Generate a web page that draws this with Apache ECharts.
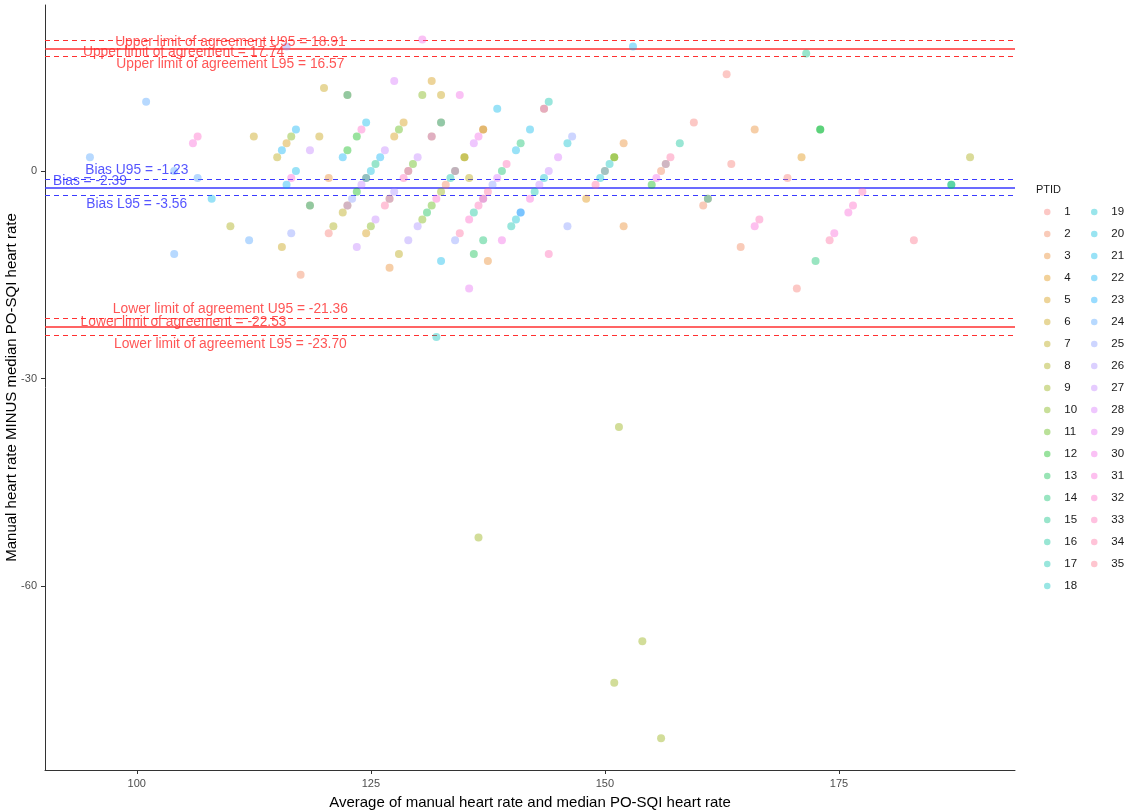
<!DOCTYPE html>
<html>
<head>
<meta charset="utf-8">
<script src="https://cdn.jsdelivr.net/npm/echarts@6/dist/echarts.min.js"></script>
<style>
  html, body { margin: 0; padding: 0; background: #fff; }
  #chart { width: 1125px; height: 810px; }
</style>
</head>
<body>
<div id="chart"></div>
<script>
// PTID levels
const ptids = Array.from({ length: 35 }, (_, i) => String(i + 1));

// [average HR, manual minus PO-SQI, PTID]
const points = [
  [101, 10, 24], [95, 2, 24], [104, 0, 24], [106.5, -1, 24], [106, 4, 31], [106.5, 5, 32],
  [112.5, 5, 6], [115, 2, 7], [115.5, 3, 22], [116, 4, 5], [116.5, 5, 10], [117, 6, 22],
  [119.5, 5, 6], [118.5, 3, 27], [122, 2, 22], [122.5, 3, 12], [123.5, 5, 12], [124, 6, 32],
  [124.5, 7, 21], [120, 12, 6], [122.5, 11, 16], [122.5, 11, 3], [116, 18, 25],
  [108, -4, 21], [116, -2, 22], [116.5, -1, 31], [117, 0, 21], [120.5, -1, 3],
  [124.5, -1, 23], [124.5, -1, 4], [124, -2, 27], [123.5, -3, 12], [123, -4, 25], [125, 0, 20],
  [118.5, -5, 16], [118.5, -5, 3], [110, -8, 8], [112, -10, 24], [104, -12, 24], [116.5, -9, 25],
  [115.5, -11, 6], [117.5, -15, 2], [120.5, -9, 1], [121, -8, 8], [122, -6, 7],
  [122.5, -5, 4], [122.5, -5, 26], [123.5, -11, 27], [124.5, -9, 5], [125, -8, 10],
  [125.5, 1, 15], [126, 2, 22], [126.5, 3, 27], [127.5, 5, 5], [128, 6, 11], [128.5, 7, 5],
  [127.5, 13, 28], [131.5, 13, 5], [130.5, 11, 10], [132.5, 11, 6], [134.5, 11, 30], [130.5, 19, 30],
  [131.5, 5, 28], [131.5, 5, 6], [132.5, 7, 17], [132.5, 7, 3],
  [125.5, -7, 27], [127.5, -3, 26], [127, -4, 27], [127, -4, 5], [126.5, -5, 34], [128.5, -1, 33],
  [129, 0, 29], [129, 0, 7], [129.5, 1, 11], [130, 2, 27], [130, -8, 26], [130.5, -7, 10],
  [131, -6, 13], [131.5, -5, 11], [132, -4, 32], [132.5, -3, 9], [133, -2, 2], [133.5, -1, 17],
  [134, 0, 33], [134, 0, 14], [135, 2, 7], [135, 2, 8], [135.5, -1, 7], [136, 4, 28], [136.5, 5, 30],
  [137, 6, 2], [137, 6, 6], [129, -10, 26], [134, -10, 25], [134.5, -9, 34], [135.5, -7, 32],
  [136, -6, 16], [136.5, -5, 33], [137, -4, 34], [137, -4, 26], [137.5, -3, 34], [138, -2, 25],
  [138.5, -1, 28], [139, 0, 14], [139.5, 1, 33], [140.5, 3, 21], [141, 4, 14], [142, 6, 21],
  [138.5, 9, 21], [143.5, 9, 29], [143.5, 9, 6], [144, 10, 17],
  [128, -12, 7], [127, -14, 3], [132.5, -13, 21], [137, -10, 14], [136, -12, 13], [137.5, -13, 3],
  [135.5, -17, 29], [132, -24, 18], [139, -10, 30], [140, -8, 17], [140.5, -7, 19],
  [141, -6, 23], [141, -6, 24], [142, -4, 31], [142.5, -3, 17], [143, -2, 27], [143.5, -1, 19],
  [144, 0, 27], [145, 2, 28], [146, 4, 19], [146.5, 5, 25], [146, -8, 25], [144, -12, 33],
  [148, -4, 4], [149, -2, 34], [149.5, -1, 19], [150, 0, 24], [150, 0, 7], [150.5, 1, 18],
  [151, 2, 11], [151, 2, 8], [152, 4, 3], [152, -8, 3], [153, 18, 22],
  [155, -2, 12], [155.5, -1, 30], [156, 0, 2], [156.5, 1, 26], [156.5, 1, 5], [157, 2, 34], [158, 4, 16],
  [159.5, 7, 1], [160.5, -5, 2], [161, -4, 15], [161, -4, 1], [163, 14, 1], [163.5, 1, 1],
  [166, 6, 3], [166.5, -7, 33], [166, -8, 31], [164.5, -11, 2], [169.5, -1, 1], [170.5, -17, 1],
  [171, 2, 4], [171.5, 17, 15], [172.5, -13, 14], [173, 6, 12], [173, 6, 13],
  [177.5, -3, 33], [176.5, -5, 32], [176, -6, 31], [174.5, -9, 31], [174, -10, 34], [183, -10, 35],
  [187, -2, 14], [187, -2, 15], [189, 2, 8],
  [151.5, -37, 9], [136.5, -53, 9], [154, -68, 9], [151, -74, 9], [156, -82, 9],
];

// Bland-Altman reference lines and their annotations
const refValues = [18.91, 17.74, 16.57, -1.23, -2.39, -3.56, -21.36, -22.53, -23.70];
const refLabels = [
  'Upper limit of agreement U95 = 18.91',
  'Upper limit of agreement = 17.74',
  'Upper limit of agreement L95 = 16.57',
  'Bias U95 = -1.23',
  'Bias = -2.39',
  'Bias L95 = -3.56',
  'Lower limit of agreement U95 = -21.36',
  'Lower limit of agreement = -22.53',
  'Lower limit of agreement L95 = -23.70',
];
const refLabelX = [110, 105, 110, 100, 95, 100, 110, 105, 110];

const xTicks = [100, 125, 150, 175];
const yTicks = [-60, -30, 0];

// vertical nudge of each annotation (px)
const labelShift = [1.5, 4, 7.6, -9.5, -6, 8.3, -9.5, -5, 9];

// ggplot2 default hue palette (hcl, c = 100, l = 65)
function hueColor(i, n, alpha) {
  const h = (15 + (360 / n) * i) * Math.PI / 180;
  const L = 65, C = 100;
  const Xn = 95.047, Yn = 100, Zn = 108.883;
  const den = Xn + 15 * Yn + 3 * Zn;
  const u = C * Math.cos(h) / (13 * L) + 4 * Xn / den;
  const v = C * Math.sin(h) / (13 * L) + 9 * Yn / den;
  const Y = Yn * Math.pow((L + 16) / 116, 3);
  const X = 9 * Y * u / (4 * v);
  const Z = -X / 3 - 5 * Y + 3 * Y / v;
  const x = X / 100, y = Y / 100, z = Z / 100;
  const lin = [
    3.240479 * x - 1.537150 * y - 0.498535 * z,
    -0.969256 * x + 1.875992 * y + 0.041556 * z,
    0.055648 * x - 0.204043 * y + 1.057311 * z,
  ];
  const rgb = lin.map((c) => {
    const g = c <= 0.0031308 ? 12.92 * c : 1.055 * Math.pow(c, 1 / 2.4) - 0.055;
    return Math.round(255 * Math.min(1, Math.max(0, g)));
  });
  return `rgba(${rgb[0]},${rgb[1]},${rgb[2]},${alpha})`;
}

const font = "'Liberation Sans', Arial, sans-serif";

const pointSeries = ptids.map((id, i) => ({
  name: id,
  type: 'scatter',
  symbol: 'circle',
  symbolSize: 8,
  z: 3,
  itemStyle: { color: hueColor(i, ptids.length, 0.5) },
  emphasis: { disabled: true },
  data: points.filter((p) => String(p[2]) === id).map((p) => [p[0], p[1]]),
}));

const refSeries = {
  type: 'scatter',
  silent: true,
  z: 5,
  symbolSize: 1,
  itemStyle: { color: 'rgba(0,0,0,0)' },
  data: refValues.map((v, i) => {
    const color = refLabels[i].startsWith('Bias') ? '#2b2bff' : '#ff2b2b';
    return {
      value: [refLabelX[i], v],
      label: {
        show: true,
        position: 'inside',
        offset: [0, labelShift[i]],
        formatter: refLabels[i],
        color,
        fontSize: 13.8,
        fontFamily: font,
      },
    };
  }),
  markLine: {
    silent: true,
    symbol: 'none',
    z: 1,
    label: { show: false },
    data: refValues.map((v, i) => {
      const bias = refLabels[i].startsWith('Bias');
      const dashed = /U95|L95/.test(refLabels[i]);
      return {
        yAxis: v,
        lineStyle: {
          color: bias ? '#3a3aff' : '#ff3030',
          width: dashed ? 1.2 : 1.5,
          opacity: 1,
          type: dashed ? [5, 4] : 'solid',
        },
      };
    }),
  },
};

// two legend columns, like ggplot's 18-row layout
const legendBase = {
  orient: 'vertical',
  top: 203.5,
  padding: 0,
  icon: 'circle',
  itemWidth: 24,
  itemHeight: 6.5,
  itemGap: 5,
  selectedMode: false,
  textStyle: { fontSize: 11.5, lineHeight: 17, color: '#1a1a1a', fontFamily: font },
};

const chart = echarts.init(document.getElementById('chart'));
chart.setOption({
  animation: false,
  backgroundColor: '#fff',
  textStyle: { fontFamily: font },
  title: {
    text: 'PTID',
    left: 1036,
    top: 184,
    padding: 0,
    textStyle: { fontSize: 11, fontWeight: 'normal', color: '#1a1a1a', fontFamily: font },
  },
  legend: [
    { ...legendBase, left: 1044, data: ptids.slice(0, 18) },
    { ...legendBase, left: 1091, data: ptids.slice(18) },
  ],
  grid: { left: 45, right: 110, top: 5, bottom: 40, outerBoundsMode: 'none', containLabel: false },
  xAxis: {
    type: 'value',
    min: 90.2,
    max: 193.8,
    name: 'Average of manual heart rate and median PO-SQI heart rate',
    nameLocation: 'middle',
    nameGap: 25,
    nameMoveOverlap: false,
    nameTextStyle: { fontSize: 15, color: '#000', fontFamily: font },
    splitLine: { show: false },
    axisLine: { show: true, onZero: false, lineStyle: { color: '#333', width: 1 } },
    axisTick: { show: true, length: 4, customValues: xTicks, lineStyle: { color: '#333' } },
    axisLabel: { customValues: xTicks, color: '#4d4d4d', fontSize: 11, margin: 8, fontFamily: font },
  },
  yAxis: {
    type: 'value',
    min: -86.6,
    max: 24,
    name: 'Manual heart rate MINUS median PO-SQI heart rate',
    nameLocation: 'middle',
    nameGap: 26,
    nameMoveOverlap: false,
    nameTextStyle: { fontSize: 15, color: '#000', fontFamily: font },
    splitLine: { show: false },
    axisLine: { show: true, onZero: false, lineStyle: { color: '#333', width: 1 } },
    axisTick: { show: true, length: 4, customValues: yTicks, lineStyle: { color: '#333' } },
    axisLabel: { customValues: yTicks, color: '#4d4d4d', fontSize: 11, margin: 8, fontFamily: font },
  },
  series: [...pointSeries, refSeries],
});
</script>
</body>
</html>
